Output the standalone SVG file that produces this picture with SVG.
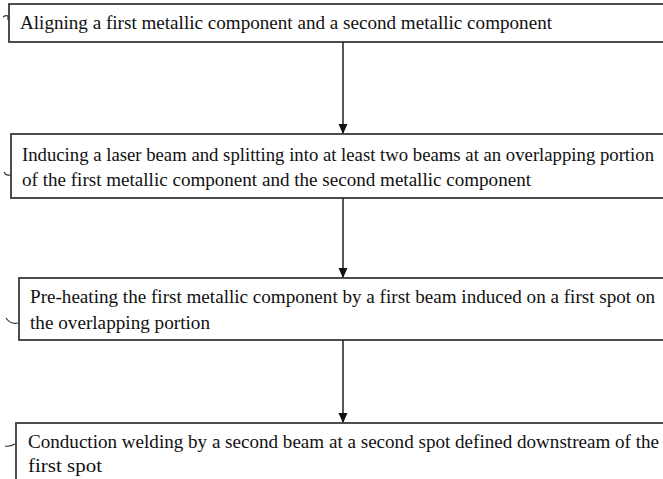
<svg xmlns="http://www.w3.org/2000/svg" width="663" height="479" viewBox="0 0 663 479">
<defs>
<marker id="ah" markerWidth="10" markerHeight="12" refX="9" refY="5" orient="auto" markerUnits="userSpaceOnUse" viewBox="0 0 10 10">
<path d="M0,0.5 L10,5 L0,9.5 Z" fill="#111"/>
</marker>
</defs>
<style>
.box{fill:#fff;stroke:#3a3a3a;stroke-width:1.8}
.t{font-family:"Liberation Serif","Times New Roman",serif;font-size:19px;fill:#111}
.tick{fill:none;stroke:#333;stroke-width:1.2}
.conn{stroke:#222;stroke-width:1.5;fill:none}
</style>
<rect width="663" height="479" fill="#fff"/>
<g id="step1">
<rect class="box" x="9" y="4" width="680" height="38"/>
<path class="tick" d="M3,17 Q6,15 8,16 L8,20"/>
<text class="t" x="20" y="29" textLength="532" lengthAdjust="spacingAndGlyphs">Aligning a first metallic component and a second metallic component</text>
</g>
<g id="step2">
<rect class="box" x="11" y="134" width="680" height="64"/>
<path class="tick" d="M4,172 Q6,176 10,175"/>
<text class="t" x="22" y="161" textLength="632" lengthAdjust="spacingAndGlyphs">Inducing a laser beam and splitting into at least two beams at an overlapping portion</text>
<text class="t" x="22" y="186" textLength="509" lengthAdjust="spacingAndGlyphs">of the first metallic component and the second metallic component</text>
</g>
<g id="step3">
<rect class="box" x="19" y="278" width="680" height="62"/>
<path class="tick" d="M6,318 Q11,325 18,323"/>
<text class="t" x="30" y="303" textLength="625" lengthAdjust="spacingAndGlyphs">Pre-heating the first metallic component by a first beam induced on a first spot on</text>
<text class="t" x="30" y="329" textLength="180" lengthAdjust="spacingAndGlyphs">the overlapping portion</text>
</g>
<g id="step4">
<rect class="box" x="16" y="423" width="680" height="80"/>
<path class="tick" d="M5,446 Q10,447 15,444"/>
<text class="t" x="28" y="448" textLength="631" lengthAdjust="spacingAndGlyphs">Conduction welding by a second beam at a second spot defined downstream of the</text>
<text class="t" x="28" y="472" textLength="74" lengthAdjust="spacingAndGlyphs">first spot</text>
</g>
<g id="connectors">
<line class="conn" x1="343" y1="42" x2="343" y2="133" marker-end="url(#ah)"/>
<line class="conn" x1="343" y1="198" x2="343" y2="277" marker-end="url(#ah)"/>
<line class="conn" x1="343" y1="340" x2="343" y2="422" marker-end="url(#ah)"/>
</g>
</svg>
